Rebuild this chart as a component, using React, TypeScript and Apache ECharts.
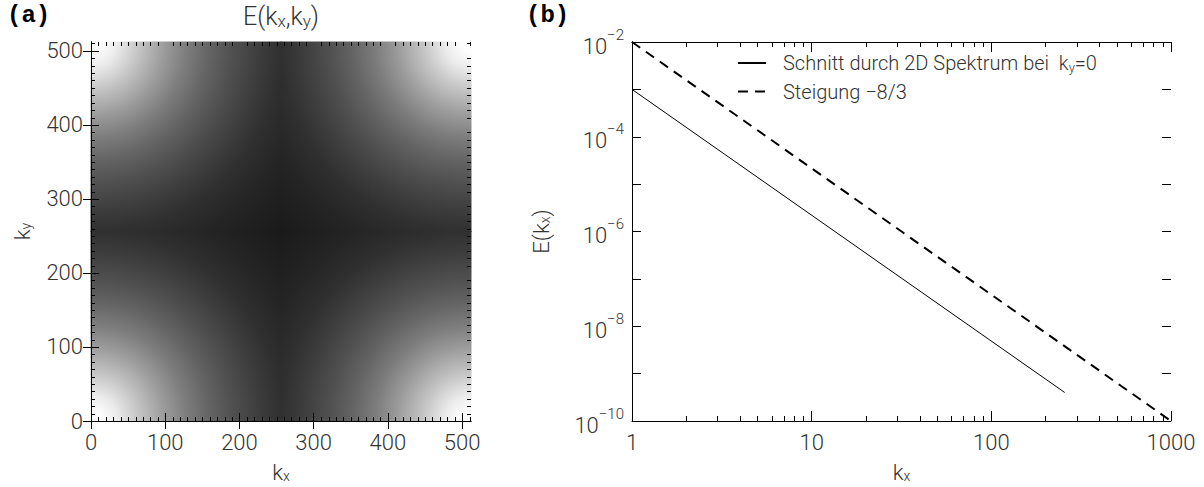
import React, { useEffect, useRef } from "react";
import * as echarts from "echarts";

// ---- panel (a): 2D spectrum image ----
const imgMajorTicks = [0, 100, 200, 300, 400, 500];
const imgMinorTicks = [
  10, 20, 30, 40, 50, 60, 70, 80, 90, 110, 120, 130, 140, 150, 160, 170, 180, 190,
  210, 220, 230, 240, 250, 260, 270, 280, 290, 310, 320, 330, 340, 350, 360, 370, 380, 390,
  410, 420, 430, 440, 450, 460, 470, 480, 490, 510,
];
// grey level read along the distance from the nearest corner (k = 0 after FFT wrap)
const radiusFromCorner = [0, 15, 35, 66, 100, 129, 160, 191, 225, 256, 300, 362];
const grayLevel = [255, 252, 235, 195, 155, 125, 100, 80, 62, 48, 36, 26];
// quadrants: [x0, y0, x1, y1, cornerX, cornerY]
const quadrants = [
  [0, 0, 256, 256, 0, 0],
  [256, 0, 512, 256, 512, 0],
  [0, 256, 256, 512, 0, 512],
  [256, 256, 512, 512, 512, 512],
];

// ---- panel (b): 1D cut ----
const logMajorX = [1, 10, 100, 1000];
const logMinorX = [2, 3, 4, 5, 6, 7, 8, 9, 20, 30, 40, 50, 60, 70, 80, 90, 200, 300, 400, 500, 600, 700, 800, 900];
const logTicksY = [1e-10, 1e-9, 1e-8, 1e-7, 1e-6, 1e-5, 1e-4, 1e-3, 1e-2];
const logLabelsY = [1e-10, 1e-8, 1e-6, 1e-4, 1e-2];
const cutK = [1, 256];
const cutE = [1e-3, 4e-10];
const slopeK = [1, 1000];
const slopeE = [1e-2, 1e-10];
const seriesNames = ["Schnitt durch 2D Spektrum bei ky=0", "Steigung −8/3"];

const FONT = 'Roboto, "DejaVu Sans", sans-serif';
const TXT = "#333";
const base = { fontFamily: FONT, fontWeight: 300 as any, color: TXT };
const subRich = { sub: { fontFamily: FONT, fontWeight: 300 as any, color: TXT, fontSize: 14, verticalAlign: "bottom" as any, padding: [8, 0, 0, 0] } };

const frameLine = { show: true, lineStyle: { color: "#000", width: 1 } };

const GRID_A = { left: 91, top: 42, width: 380, height: 379 };
const GRID_B = { left: 632, top: 42, width: 539, height: 379 };

function majorTick(vals: number[], len: number) {
  return { show: true, inside: true, length: len, customValues: vals, lineStyle: { color: "#000", width: 1 } };
}

function minorTickSeries(xIdx: number, yIdx: number, vals: number[], vertical: boolean, other: number, len: number) {
  return {
    type: "custom",
    xAxisIndex: xIdx,
    yAxisIndex: yIdx,
    silent: true,
    z: 10,
    clip: false,
    data: vals.map((v) => (vertical ? [v, other] : [other, v])),
    renderItem: (params: any, api: any) => {
      const cs = params.coordSys;
      const p = api.coord([api.value(0), api.value(1)]);
      const st = { stroke: "#000", lineWidth: 1 };
      if (vertical) {
        const x = Math.round(p[0]) + 0.5;
        return {
          type: "group",
          children: [
            { type: "line", shape: { x1: x, y1: cs.y + cs.height, x2: x, y2: cs.y + cs.height - len }, style: st },
            { type: "line", shape: { x1: x, y1: cs.y, x2: x, y2: cs.y + len }, style: st },
          ],
        };
      }
      const y = Math.round(p[1]) + 0.5;
      return {
        type: "group",
        children: [
          { type: "line", shape: { x1: cs.x, y1: y, x2: cs.x + len, y2: y }, style: st },
          { type: "line", shape: { x1: cs.x + cs.width, y1: y, x2: cs.x + cs.width - len, y2: y }, style: st },
        ],
      };
    },
  };
}

// tick-only axes of panel (b): a linear axis over log10 of the range
const decX = [Math.log10(logMajorX[0]), Math.log10(logMajorX[logMajorX.length - 1])];
const decY = [Math.log10(logTicksY[0]), Math.log10(logTicksY[logTicksY.length - 1])];
function tickAxis(position: string, range: number[], vals: number[], len: number) {
  return {
    gridIndex: 1,
    type: "value",
    position,
    min: range[0],
    max: range[1],
    z: 12,
    axisLine: { show: false, onZero: false },
    axisTick: majorTick(vals.map((v) => Math.log10(v)), len),
    axisLabel: { show: false },
    splitLine: { show: false },
    axisPointer: { show: false },
  };
}

function supLabel(v: number) {
  const e = Math.round(Math.log10(v));
  return `{b|10}{sup|−${Math.abs(e)}}`;
}

export default function App() {
  const ref = useRef<HTMLDivElement>(null);
  useEffect(() => {
    const chart = echarts.init(ref.current!, null, { renderer: "svg" });
    const maxR = radiusFromCorner[radiusFromCorner.length - 1];
    const stops = radiusFromCorner.map((d, i) => ({
      offset: d / maxR,
      color: `rgb(${grayLevel[i]},${grayLevel[i]},${grayLevel[i]})`,
    }));
    const noTick = { show: false };
    const option: any = {
      animation: false,
      backgroundColor: "#fff",
      title: [
        { text: "(a)", left: 7, top: 3, padding: 0, textStyle: { fontFamily: '"Liberation Mono", "DejaVu Sans Mono", monospace', fontWeight: "bold", fontSize: 24, color: "#000" } },
        {
          text: "E(k{sub|x},k{sub|y})",
          left: 281,
          top: 4,
          padding: 0,
          textAlign: "center",
          textStyle: { ...base, fontSize: 25, rich: { sub: { ...subRich.sub, fontSize: 17 } } },
        },
        { text: "(b)", left: 526, top: 3, padding: 0, textStyle: { fontFamily: '"Liberation Mono", "DejaVu Sans Mono", monospace', fontWeight: "bold", fontSize: 24, color: "#000" } },
      ],
      legend: {
        data: seriesNames,
        orient: "vertical",
        left: 737,
        top: 53,
        padding: 0,
        itemWidth: 28,
        itemHeight: 14,
        itemGap: 8,
        selectedMode: false,
        itemStyle: { opacity: 0 },
        textStyle: { ...base, fontSize: 20, padding: [0, 0, 0, 12], rich: { sub: { ...subRich.sub, fontSize: 13 } } },
        formatter: (name: string) => (name === seriesNames[0] ? "Schnitt durch 2D Spektrum bei  k{sub|y}=0" : name),
      },
      grid: [
        { ...GRID_A, containLabel: false, outerBoundsMode: "none" },
        { ...GRID_B, containLabel: false, outerBoundsMode: "none" },
      ],
      xAxis: [
        {
          gridIndex: 0, type: "value", position: "bottom", min: 0, max: 512, z: 10,
          axisLine: frameLine, axisTick: majorTick(imgMajorTicks, 8), splitLine: { show: false },
          axisLabel: { customValues: imgMajorTicks, ...base, fontSize: 22, margin: 10 },
          name: "k{sub|x}", nameLocation: "middle", nameGap: 40,
          nameTextStyle: { ...base, fontSize: 22, rich: subRich },
        },
        {
          gridIndex: 0, type: "value", position: "top", min: 0, max: 512, z: 10,
          axisLine: frameLine, axisTick: majorTick(imgMajorTicks, 8), splitLine: { show: false },
          axisLabel: { show: false },
        },
        {
          gridIndex: 1, type: "log", logBase: 10, position: "bottom", min: 1, max: 1000, z: 10,
          axisLine: frameLine, axisTick: noTick, splitLine: { show: false }, minorTick: { show: false },
          axisLabel: { customValues: logMajorX, ...base, fontSize: 22, margin: 10, formatter: (v: number) => String(Math.round(v)) },
          name: "k{sub|x}", nameLocation: "middle", nameGap: 40,
          nameTextStyle: { ...base, fontSize: 22, rich: subRich },
        },
        {
          gridIndex: 1, type: "log", logBase: 10, position: "top", min: 1, max: 1000, z: 10,
          axisLine: frameLine, axisTick: noTick, splitLine: { show: false }, minorTick: { show: false },
          axisLabel: { show: false },
        },
        tickAxis("bottom", decX, logMajorX, 10),
        tickAxis("bottom", decX, logMinorX, 5),
        tickAxis("top", decX, logMajorX, 10),
        tickAxis("top", decX, logMinorX, 5),
      ],
      yAxis: [
        {
          gridIndex: 0, type: "value", position: "left", min: 0, max: 512, z: 10,
          axisLine: frameLine, axisTick: majorTick(imgMajorTicks, 8), splitLine: { show: false },
          axisLabel: { customValues: imgMajorTicks, ...base, fontSize: 22, margin: 8 },
          name: "k{sub|y}", nameLocation: "middle", nameGap: 58, nameRotate: 90,
          nameTextStyle: { ...base, fontSize: 22, rich: subRich },
        },
        {
          gridIndex: 0, type: "value", position: "right", min: 0, max: 512, z: 10,
          axisLine: frameLine, axisTick: majorTick(imgMajorTicks, 8), splitLine: { show: false },
          axisLabel: { show: false },
        },
        {
          gridIndex: 1, type: "log", logBase: 10, position: "left", min: 1e-10, max: 1e-2, z: 10,
          axisLine: frameLine, axisTick: noTick, splitLine: { show: false }, minorTick: { show: false },
          axisLabel: {
            customValues: logLabelsY, ...base, margin: 8, formatter: supLabel,
            rich: {
              b: { ...base, fontSize: 22, lineHeight: 30, verticalAlign: "bottom" },
              sup: { ...base, fontSize: 15, lineHeight: 30, verticalAlign: "top" },
            },
          },
          name: "E(k{sub|x})", nameLocation: "middle", nameGap: 80, nameRotate: 90,
          nameTextStyle: { ...base, fontSize: 22, rich: subRich },
        },
        {
          gridIndex: 1, type: "log", logBase: 10, position: "right", min: 1e-10, max: 1e-2, z: 10,
          axisLine: frameLine, axisTick: noTick, splitLine: { show: false }, minorTick: { show: false },
          axisLabel: { show: false },
        },
        tickAxis("left", decY, logTicksY, 9),
        tickAxis("right", decY, logTicksY, 9),
      ],
      series: [
        {
          type: "custom",
          xAxisIndex: 0,
          yAxisIndex: 0,
          silent: true,
          z: 1,
          encode: { x: [0, 2], y: [1, 3] },
          data: quadrants,
          renderItem: (params: any, api: any) => {
            const x0 = api.value(0), y0 = api.value(1), x1 = api.value(2), y1 = api.value(3);
            const cx = api.value(4), cy = api.value(5);
            const pa = api.coord([x0, y0]);
            const pb = api.coord([x1, y1]);
            const pc = api.coord([cx, cy]);
            const pf = api.coord([cx === x0 ? x1 : x0, cy === y0 ? y1 : y0]);
            const r = Math.hypot(pf[0] - pc[0], pf[1] - pc[1]);
            return {
              type: "rect",
              shape: {
                x: Math.min(pa[0], pb[0]) - 0.5,
                y: Math.min(pa[1], pb[1]) - 0.5,
                width: Math.abs(pb[0] - pa[0]) + 1,
                height: Math.abs(pb[1] - pa[1]) + 1,
              },
              style: { fill: new echarts.graphic.RadialGradient(pc[0], pc[1], r, stops, true) },
            };
          },
        },
        minorTickSeries(0, 0, imgMinorTicks, true, 0, 4),
        minorTickSeries(0, 0, imgMinorTicks, false, 0, 4),
        {
          name: seriesNames[0],
          type: "line",
          xAxisIndex: 2,
          yAxisIndex: 2,
          symbol: "none",
          z: 5,
          lineStyle: { color: "#000", width: 1 },
          itemStyle: { color: "#000" },
          data: cutK.map((k, i) => [k, cutE[i]]),
        },
        {
          name: seriesNames[1],
          type: "line",
          xAxisIndex: 2,
          yAxisIndex: 2,
          symbol: "none",
          z: 5,
          lineStyle: { color: "#000", width: 2, type: [10, 7] },
          itemStyle: { color: "#000" },
          data: slopeK.map((k, i) => [k, slopeE[i]]),
        },
      ],
    };
    chart.setOption(option);
    return () => chart.dispose();
  }, []);
  return (
    <div
      ref={ref}
      style={{ position: "fixed", left: 0, top: 0, width: 1204, height: 487, background: "#fff" }}
    />
  );
}
